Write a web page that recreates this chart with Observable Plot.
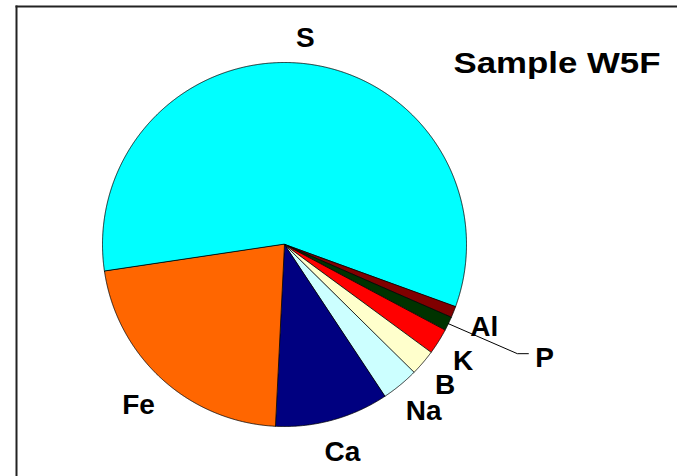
<!DOCTYPE html>
<html>
<head>
<meta charset="utf-8">
<script src="https://cdn.jsdelivr.net/npm/d3@7"></script>
<script src="https://cdn.jsdelivr.net/npm/@observablehq/plot@0.6"></script>
<style>
  body { margin: 0; background: #fff; }
  #chart svg { display: block; }
</style>
</head>
<body>
<div id="chart"></div>
<script>
// Elemental composition of sample W5F (percent of total)
const elements = ["S", "Al", "P", "K", "B", "Na", "Ca", "Fe"];
const shares = [57.9, 1.0, 1.25, 2.3, 2.3, 3.3, 10.1, 21.85];
const colors = ["#00FFFF", "#800000", "#003300", "#FF0000", "#FFFFCC", "#CCFFFF", "#000080", "#FF6600"];
const title = "Sample W5F";

const W = 677, H = 476;
const cx = 284, cy = 244, R = 182;      // pie centre and radius, px
const firstSliceAngle = 261.5;           // degrees clockwise from 12 o'clock
const fontFamily = "'Liberation Sans', Arial, sans-serif";
const labelSize = 28, titleSize = 29;

const rad = (d) => (d * Math.PI) / 180;
// position on the unit pie (y points up in data space)
const polar = (deg, r) => [r * Math.sin(rad(deg)), r * Math.cos(rad(deg))];

const total = d3.sum(shares);
let acc = firstSliceAngle;
const slices = elements.map((name, i) => {
  const a0 = acc, a1 = acc + (shares[i] / total) * 360;
  acc = a1;
  return {name, value: shares[i], a0, a1, mid: (a0 + a1) / 2};
});

// slice outlines: centre, then along the rim
const outline = slices.flatMap((s) => {
  const n = Math.max(2, Math.ceil((s.a1 - s.a0) / 0.25));
  const pts = [{name: s.name, x: 0, y: 0}];
  for (let k = 0; k <= n; k++) {
    const [x, y] = polar(s.a0 + ((s.a1 - s.a0) * k) / n, 1);
    pts.push({name: s.name, x, y});
  }
  return pts;
});

// text widths for label placement
const ctx = document.createElement("canvas").getContext("2d");
ctx.font = `bold ${labelSize}px ${fontFamily}`;
const textWidth = (t) => ctx.measureText(t).width;

// labels outside the rim; P is pulled out with a leader line
const leadered = {P: {bendX: 69, bendY: 30, tail: 11, gap: 7}};
const labelGap = 201 / R;
const labels = [];
const leaders = [];
for (const s of slices) {
  const w = textWidth(s.name) / R, h = (labelSize * 0.72) / R;
  const ld = leadered[s.name];
  if (ld) {
    const [rx, ry] = polar(s.mid, 1);
    const bx = rx + ld.bendX / R, by = ry - ld.bendY / R;
    const tx = bx + ld.tail / R;
    leaders.push({name: s.name, x: rx, y: ry}, {name: s.name, x: bx, y: by}, {name: s.name, x: tx, y: by});
    labels.push({name: s.name, x: tx + ld.gap / R + w / 2, y: by});
  } else {
    const [ax, ay] = polar(s.mid, labelGap);
    labels.push({
      name: s.name,
      x: ax + (w / 2) * Math.sin(rad(s.mid)),
      y: ay + (h / 2) * Math.cos(rad(s.mid))
    });
  }
}

const chart = Plot.plot({
  width: W,
  height: H,
  marginLeft: 16,
  marginTop: 6,
  marginRight: 0,
  marginBottom: 0,
  style: {fontFamily, background: "#fff"},
  x: {domain: [-1, 1], range: [cx - R, cx + R], axis: null},
  y: {domain: [-1, 1], range: [cy + R, cy - R], axis: null},
  color: {domain: elements, range: colors},
  marks: [
    Plot.frame({anchor: "left", stroke: "#222", strokeWidth: 2}),
    Plot.frame({anchor: "top", stroke: "#222", strokeWidth: 2}),
    Plot.line(outline, {
      x: "x", y: "y", z: "name", fill: "name",
      stroke: "#000", strokeWidth: 0.8, curve: "linear-closed"
    }),
    Plot.line(leaders, {x: "x", y: "y", z: "name", stroke: "#000", strokeWidth: 1}),
    Plot.text(labels, {
      x: "x", y: "y", text: "name", dy: 4,
      fontSize: labelSize, fontWeight: "bold", fill: "#000",
      textAnchor: "middle", lineAnchor: "middle"
    }),
    Plot.text([title], {
      frameAnchor: "top-left", dx: 437, dy: 46,
      fontSize: titleSize, fontWeight: "bold", fill: "#000",
      textAnchor: "start", lineAnchor: "top"
    })
  ]
});

// the title runs a little wider than the plain face
for (const t of chart.querySelectorAll("text")) {
  if (t.textContent === title) {
    t.setAttribute("textLength", 207);
    t.setAttribute("lengthAdjust", "spacingAndGlyphs");
  }
}

document.getElementById("chart").append(chart);
</script>
</body>
</html>
